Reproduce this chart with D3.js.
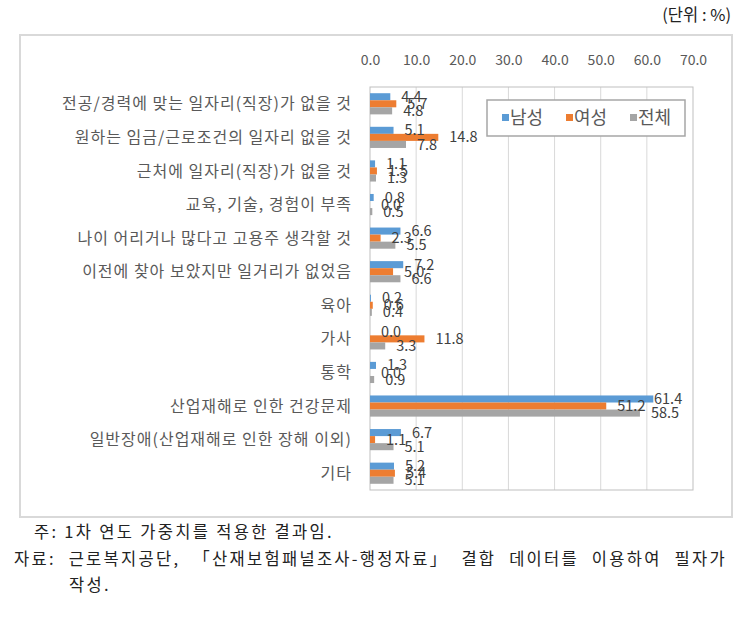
<!DOCTYPE html>
<html><head><meta charset="utf-8">
<script src="https://cdn.jsdelivr.net/npm/d3@7"></script>
<style>body{margin:0;background:#fff}svg{display:block}</style>
</head><body>
<svg id="c" width="742" height="618"></svg>
<script>
const categories = [
  "전공/경력에 맞는 일자리(직장)가 없을 것",
  "원하는 임금/근로조건의 일자리 없을 것",
  "근처에 일자리(직장)가 없을 것",
  "교육, 기술, 경험이 부족",
  "나이 어리거나 많다고 고용주 생각할 것",
  "이전에 찾아 보았지만 일거리가 없었음",
  "육아",
  "가사",
  "통학",
  "산업재해로 인한 건강문제",
  "일반장애(산업재해로 인한 장해 이외)",
  "기타"
];
const seriesNames = ["남성", "여성", "전체"];
const male   = [4.4, 5.1, 1.1, 0.8, 6.6, 7.2, 0.2, 0.0, 1.3, 61.4, 6.7, 5.2];
const female = [5.7, 14.8, 1.5, 0.0, 2.3, 5.0, 0.6, 11.8, 0.0, 51.2, 1.1, 5.4];
const total  = [4.8, 7.8, 1.3, 0.5, 5.5, 6.6, 0.4, 3.3, 0.9, 58.5, 5.1, 5.1];
const tickValues = [0, 10, 20, 30, 40, 50, 60, 70];
const colors = ["#5B9BD5", "#ED7D31", "#A5A5A5"];
const unitLabel = "(단위 : %)";
const note1 = "주: 1차 연도 가중치를 적용한 결과임.";
const note2 = "자료: 근로복지공단, 「산재보험패널조사-행정자료」 결합 데이터를 이용하여 필자가";
const note3 = "작성.";

const series = [male, female, total];
const svg = d3.select("#c");
const font = "'Noto Sans CJK KR','Noto Sans',sans-serif";
const serif = "'Noto Sans CJK KR',serif";

const L = 370, R = 693, T = 87, B = 490;
const x = d3.scaleLinear().domain([0, 70]).range([L, R]);
const y = d3.scaleBand().domain(categories).range([T, B]).paddingInner(0.37).paddingOuter(0.185);
const ySub = d3.scaleBand().domain([0, 1, 2]).range([0, y.bandwidth()]);

// outer frame
svg.append("rect").attr("x", 20).attr("y", 35).attr("width", 712).attr("height", 482)
  .attr("fill", "#fff").attr("stroke", "#d9d9d9").attr("stroke-width", 2);

// unit label
svg.append("text").attr("x", 731).attr("y", 21).attr("text-anchor", "end")
  .attr("font-family", serif).attr("font-size", 16.5).attr("fill", "#222").text(unitLabel);

// gridlines
svg.append("g").selectAll("line").data(tickValues.slice(1, -1)).join("line")
  .attr("x1", d => x(d)).attr("x2", d => x(d)).attr("y1", T).attr("y2", B)
  .attr("stroke", "#d9d9d9").attr("stroke-width", 1);

// plot border
svg.append("rect").attr("x", L).attr("y", T).attr("width", R - L).attr("height", B - T)
  .attr("fill", "none").attr("stroke", "#bfbfbf").attr("stroke-width", 1);

// top axis
const ax = svg.append("g").attr("transform", `translate(0,${T})`)
  .call(d3.axisTop(x).tickValues(tickValues).tickFormat(d3.format(".1f")).tickSize(0).tickPadding(22));
ax.select(".domain").remove();
ax.selectAll("text").attr("font-family", font).attr("font-size", 14).attr("fill", "#595959");

// bars
const groups = svg.append("g").selectAll("g").data(series).join("g").attr("fill", (d, i) => colors[i]);
groups.each(function (vals, si) {
  d3.select(this).selectAll("rect").data(vals).join("rect")
    .attr("x", x(0)).attr("y", (d, i) => y(categories[i]) + ySub(si))
    .attr("width", d => x(d) - x(0)).attr("height", ySub.bandwidth());
});

// category labels
svg.append("g").selectAll("text").data(categories).join("text")
  .attr("x", L - 18).attr("y", d => y(d) + y.bandwidth() / 2).attr("dy", "0.35em")
  .attr("text-anchor", "end").attr("font-family", font).attr("font-size", 16)
  .attr("letter-spacing", 1).attr("fill", "#595959").text(d => d);

// data labels
const fmt = d3.format(".1f");
series.forEach((vals, si) => {
  svg.append("g").selectAll("text").data(vals).join("text")
    .attr("x", d => Math.min(x(d) + 11, x(70) - 39))
    .attr("y", (d, i) => y(categories[i]) + ySub(si) + ySub.bandwidth() / 2).attr("dy", "0.35em")
    .attr("font-family", font).attr("font-size", 14.5).attr("fill", "#404040").text(d => fmt(d));
});

// legend
const lg = svg.append("g");
lg.append("rect").attr("x", 487).attr("y", 100).attr("width", 198).attr("height", 36)
  .attr("fill", "#fff").attr("stroke", "#a6a6a6").attr("stroke-width", 1.5);
const lgx = [502, 566, 630];
seriesNames.forEach((n, i) => {
  lg.append("rect").attr("x", lgx[i]).attr("y", 114).attr("width", 7).attr("height", 7).attr("fill", colors[i]);
  lg.append("text").attr("x", lgx[i] + 8).attr("y", 118).attr("dy", "0.35em")
    .attr("font-family", font).attr("font-size", 18).attr("fill", "#595959").text(n);
});

// notes
const noteStyle = s => s.attr("font-family", serif).attr("font-size", 16.5).attr("fill", "#222").attr("letter-spacing", 2.3);
svg.append("text").attr("x", 34).attr("y", 538).call(noteStyle).text(note1);
const n2 = svg.append("text").attr("x", 14).attr("y", 565).call(noteStyle).text(note2);
const w2 = n2.node().getComputedTextLength();
const spaces = (note2.match(/ /g) || []).length;
n2.attr("word-spacing", Math.max(0, (713 - w2) / spaces));
svg.append("text").attr("x", 69).attr("y", 591).call(noteStyle).text(note3);
</script>
</body></html>
